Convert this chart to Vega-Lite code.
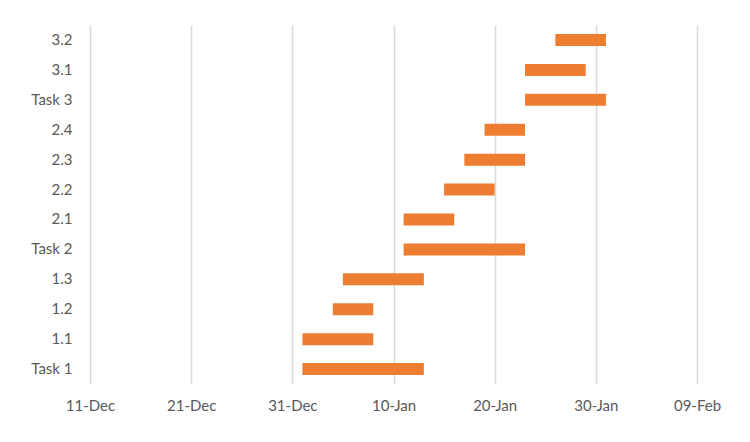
{
  "$schema": "https://vega.github.io/schema/vega-lite/v6.json",
  "width": 607,
  "height": 359,
  "autosize": {"type": "none"},
  "padding": {"left": 90, "top": 25, "right": 53, "bottom": 58},
  "background": "white",
  "config": {"view": {"stroke": null}},
  "data": {
    "values": [
      {"task": "Task 1", "start": "2018-01-01", "end": "2018-01-13"},
      {"task": "1.1", "start": "2018-01-01", "end": "2018-01-08"},
      {"task": "1.2", "start": "2018-01-04", "end": "2018-01-08"},
      {"task": "1.3", "start": "2018-01-05", "end": "2018-01-13"},
      {"task": "Task 2", "start": "2018-01-11", "end": "2018-01-23"},
      {"task": "2.1", "start": "2018-01-11", "end": "2018-01-16"},
      {"task": "2.2", "start": "2018-01-15", "end": "2018-01-20"},
      {"task": "2.3", "start": "2018-01-17", "end": "2018-01-23"},
      {"task": "2.4", "start": "2018-01-19", "end": "2018-01-23"},
      {"task": "Task 3", "start": "2018-01-23", "end": "2018-01-31"},
      {"task": "3.1", "start": "2018-01-23", "end": "2018-01-29"},
      {"task": "3.2", "start": "2018-01-26", "end": "2018-01-31"}
    ]
  },
  "mark": {"type": "bar", "color": "#ED7D31", "height": 12},
  "encoding": {
    "y": {
      "field": "task",
      "type": "nominal",
      "sort": ["3.2", "3.1", "Task 3", "2.4", "2.3", "2.2", "2.1", "Task 2", "1.3", "1.2", "1.1", "Task 1"],
      "axis": {
        "title": null,
        "ticks": false,
        "tickSize": 0,
        "domain": false,
        "labelPadding": 18,
        "labelFont": "Lato",
        "labelFontSize": 15,
        "labelColor": "#595959"
      }
    },
    "x": {
      "field": "start",
      "type": "temporal",
      "scale": {
        "type": "utc",
        "domain": [
          {"year": 2017, "month": 12, "date": 11, "utc": true},
          {"year": 2018, "month": 2, "date": 9, "utc": true}
        ]
      },
      "axis": {
        "title": null,
        "format": "%d-%b",
        "values": [
          {"year": 2017, "month": 12, "date": 11, "utc": true},
          {"year": 2017, "month": 12, "date": 21, "utc": true},
          {"year": 2017, "month": 12, "date": 31, "utc": true},
          {"year": 2018, "month": 1, "date": 10, "utc": true},
          {"year": 2018, "month": 1, "date": 20, "utc": true},
          {"year": 2018, "month": 1, "date": 30, "utc": true},
          {"year": 2018, "month": 2, "date": 9, "utc": true}
        ],
        "grid": true,
        "gridColor": "#d9d9d9",
        "gridWidth": 1.5,
        "ticks": false,
        "tickSize": 0,
        "domain": false,
        "labelPadding": 14,
        "labelFont": "Lato",
        "labelFontSize": 15,
        "labelColor": "#595959",
        "labelFlush": false
      }
    },
    "x2": {"field": "end"}
  }
}
